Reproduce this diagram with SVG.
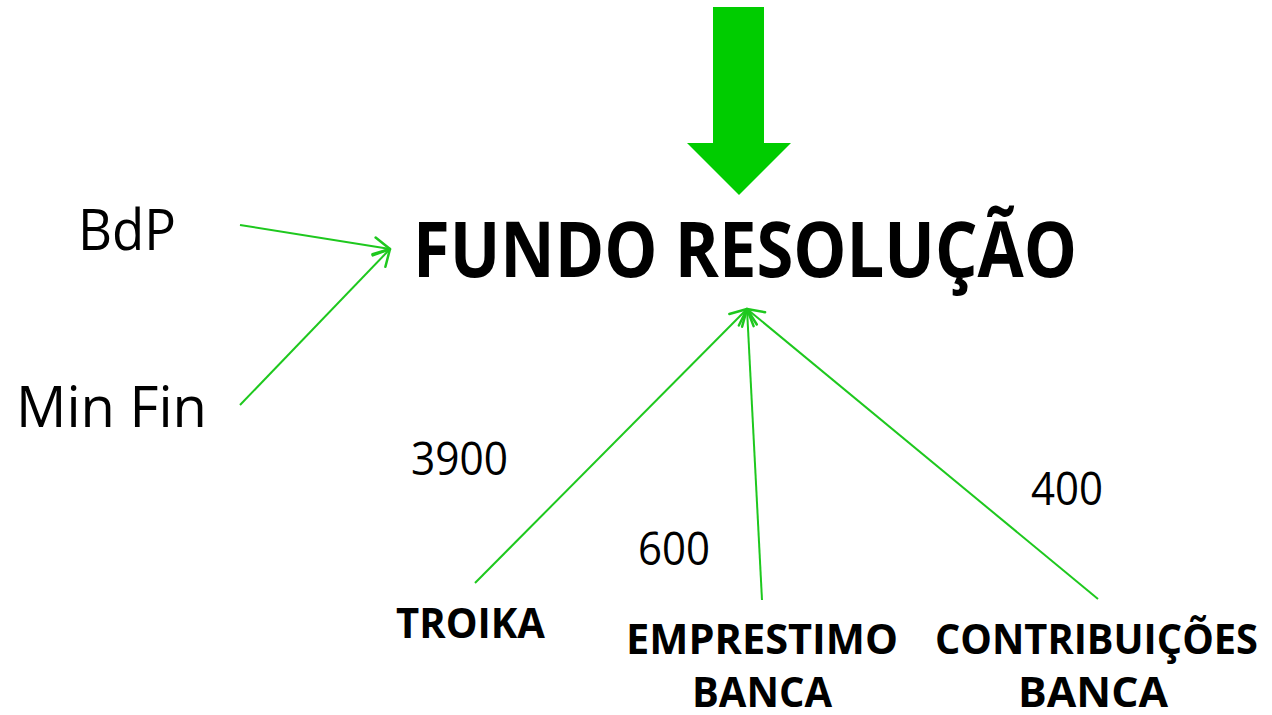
<svg xmlns="http://www.w3.org/2000/svg" width="1272" height="715" viewBox="0 0 1272 715">
  <style>
    .t { font-family: "Open Sans", "Liberation Sans", sans-serif; fill: #000; }
    .b { font-weight: bold; }
    .c { stroke: #1ec81e; stroke-width: 2; fill: none; marker-end: url(#arr); }
  </style>
  <defs>
    <marker id="arr" markerUnits="userSpaceOnUse" markerWidth="40" markerHeight="40" viewBox="-20 -20 40 40" refX="0" refY="0" orient="auto">
      <path d="M-16,-9 L0,0 L-16,9" fill="none" stroke="#1ec81e" stroke-width="2.5" stroke-linecap="round" stroke-linejoin="round"/>
    </marker>
  </defs>
  <rect width="1272" height="715" fill="#fff"/>
  <g id="big-arrow">
    <polygon points="713,7 764,7 764,143 791,143 739,195 687,143 713,143" fill="#00cc00"/>
  </g>
  <g id="connectors">
    <line class="c" x1="240" y1="225" x2="390" y2="249"/>
    <line class="c" x1="240" y1="405" x2="390" y2="249"/>
    <line class="c" x1="475" y1="583" x2="747" y2="309"/>
    <line class="c" x1="762" y1="600" x2="747" y2="309"/>
    <line class="c" x1="1098" y1="599" x2="747" y2="309"/>
  </g>
  <g id="fundo"><text class="t b" x="413" y="277" font-size="77" textLength="664" lengthAdjust="spacingAndGlyphs">FUNDO RESOLUÇÃO</text></g>
  <g id="bdp"><text class="t" x="78" y="250" font-size="56" textLength="98" lengthAdjust="spacingAndGlyphs">BdP</text></g>
  <g id="minfin"><text class="t" x="16" y="427" font-size="56" textLength="191" lengthAdjust="spacingAndGlyphs">Min Fin</text></g>
  <g id="troika"><text class="t b" x="396" y="638" font-size="42" textLength="149" lengthAdjust="spacingAndGlyphs">TROIKA</text></g>
  <g id="emprestimo">
    <text class="t b" x="626" y="654" font-size="42" textLength="272" lengthAdjust="spacingAndGlyphs">EMPRESTIMO</text>
    <text class="t b" x="692" y="707" font-size="42" textLength="140" lengthAdjust="spacingAndGlyphs">BANCA</text>
  </g>
  <g id="contribuicoes">
    <text class="t b" x="935" y="654" font-size="42" textLength="323" lengthAdjust="spacingAndGlyphs">CONTRIBUIÇÕES</text>
    <text class="t b" x="1018" y="707" font-size="42" textLength="150" lengthAdjust="spacingAndGlyphs">BANCA</text>
  </g>
  <g id="labels">
    <text class="t" x="411" y="475" font-size="45" textLength="97" lengthAdjust="spacingAndGlyphs">3900</text>
    <text class="t" x="638" y="565" font-size="45" textLength="72" lengthAdjust="spacingAndGlyphs">600</text>
    <text class="t" x="1031" y="505" font-size="45" textLength="72" lengthAdjust="spacingAndGlyphs">400</text>
  </g>
</svg>
